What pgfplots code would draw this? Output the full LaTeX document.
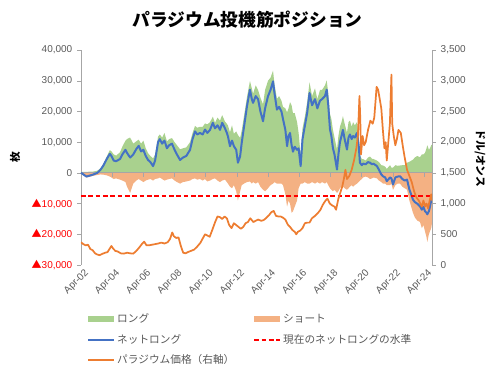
\documentclass[border=0pt]{standalone}
\usepackage{pgfplots}
\usepackage{pgfplotstable}
\pgfplotsset{compat=1.18}
\usepackage{fontspec}
\setmainfont{Liberation Sans}
\newfontfamily\jp{Noto Sans CJK JP}
\definecolor{cLong}{RGB}{169,209,142}
\definecolor{cShort}{RGB}{244,177,131}
\definecolor{cNet}{RGB}{68,114,196}
\definecolor{cPrice}{RGB}{237,125,49}
\definecolor{cRed}{RGB}{255,0,0}
\definecolor{axgray}{RGB}{166,166,166}
\definecolor{txgray}{RGB}{89,89,89}

\pgfplotstableread{
year net short long
2002.25 0 -300 300
2002.4 -500 -800 300
2002.6 -1200 -1500 300
2002.8 -900 -1300 400
2003.0 -600 -1000 400
2003.3 0 -700 700
2003.5 1000 -500 1500
2003.7 2500 -600 3100
2003.9 4500 -800 5300
2004.1 6200 -1200 7400
2004.2 5500 -1500 7000
2004.35 4000 -2000 6000
2004.5 3800 -1800 5600
2004.75 4500 -2200 6700
2004.9 6000 -2500 8500
2005.1 7500 -3000 10500
2005.2 6500 -4500 11000
2005.4 5000 -6500 11500
2005.6 6000 -3500 9500
2005.8 7800 -2500 10300
2005.95 8800 -2000 10800
2006.1 7000 -2500 9500
2006.25 7500 -3000 10500
2006.4 5500 -2500 8000
2006.55 4200 -2200 6400
2006.7 3500 -2000 5500
2006.87 2200 -2500 4700
2007.0 4000 -2000 6000
2007.19 10000 -1800 11800
2007.3 11000 -1500 12500
2007.45 9500 -2000 11500
2007.6 10500 -2500 13000
2007.76 8000 -2200 10200
2007.9 9000 -2000 11000
2008.08 9500 -1800 11300
2008.25 7500 -2500 10000
2008.4 6000 -3000 9000
2008.6 4200 -3500 7700
2008.79 5000 -3000 8000
2009.0 5500 -2800 8300
2009.24 7500 -2500 10000
2009.4 11000 -2000 13000
2009.56 13500 -1800 15300
2009.7 12500 -2200 14700
2009.88 13000 -2000 15000
2010.05 12500 -2500 15000
2010.2 14100 -2000 16100
2010.35 13000 -2800 15800
2010.52 14000 -2500 16500
2010.7 16300 -2000 18300
2010.84 14500 -1800 16300
2011.0 15500 -2500 18000
2011.16 14000 -3000 17000
2011.3 16300 -2500 18800
2011.48 14500 -2200 16700
2011.6 13000 -3000 16000
2011.67 11900 -3500 15400
2011.8 8700 -4500 13200
2011.93 10500 -5000 15500
2012.05 8700 -4000 12700
2012.2 7500 -6000 13500
2012.31 3300 -9000 12300
2012.45 5400 -6000 11400
2012.55 9700 -4000 13700
2012.7 15000 -3500 18500
2012.89 21700 -3000 24700
2013.08 27100 -2800 29900
2013.2 24000 -3500 27500
2013.28 22800 -3000 25800
2013.45 25000 -3500 28500
2013.6 24000 -3000 27000
2013.75 20000 -4500 24500
2013.92 16800 -5500 22300
2014.05 21000 -6000 27000
2014.24 25000 -5000 30000
2014.4 27000 -4000 31000
2014.56 29800 -3500 33300
2014.65 26000 -3000 29000
2014.81 20600 -3500 24100
2014.95 21500 -3500 25000
2015.1 20000 -3500 23500
2015.2 17500 -4000 21500
2015.35 14000 -7000 21000
2015.46 8700 -11000 19700
2015.55 12000 -9000 21000
2015.65 13000 -10000 23000
2015.75 9000 -13000 22000
2015.84 6900 -12500 19400
2015.95 8500 -11000 19500
2016.1 7500 -9000 16500
2016.2 8000 -5000 13000
2016.33 2200 -3500 5700
2016.45 11000 -3500 14500
2016.6 15300 -3000 18300
2016.75 19600 -3500 23100
2016.9 26000 -3500 29500
2017.06 22000 -3000 25000
2017.25 24000 -3500 27500
2017.4 21000 -3000 24000
2017.57 23500 -3500 27000
2017.7 24000 -3000 27000
2017.89 25000 -3500 28500
2018.0 27100 -3000 30100
2018.1 22000 -4000 26000
2018.21 14200 -5000 19200
2018.3 12000 -5500 17500
2018.4 8000 -6000 14000
2018.5 6000 -5500 11500
2018.66 1100 -6500 7600
2018.75 6000 -6000 12000
2018.85 10000 -5000 15000
2018.95 12000 -4500 16500
2019.04 14000 -4500 18500
2019.15 11000 -5000 16000
2019.3 7600 -5500 13100
2019.4 11500 -5000 16500
2019.49 12500 -4500 17000
2019.6 11000 -4000 15000
2019.69 12000 -4500 16500
2019.8 11500 -4000 15500
2019.94 13000 -3500 16500
2020.05 9000 -3000 12000
2020.13 3300 -2500 5800
2020.25 2500 -2000 4500
2020.33 3000 -1500 4500
2020.5 2800 -1200 4000
2020.65 3500 -1500 5000
2020.78 3300 -2000 5300
2020.9 2800 -1800 4600
2021.0 3000 -1500 4500
2021.22 2200 -1800 4000
2021.35 1000 -2500 3500
2021.5 -500 -3000 2500
2021.61 -1100 -3500 2400
2021.75 -1500 -3500 2000
2021.85 -2700 -4000 1300
2022.06 -1500 -4000 2500
2022.15 -1800 -3500 1700
2022.25 -3800 -5500 1700
2022.4 -1500 -4000 2500
2022.55 -1200 -3500 2300
2022.7 -1100 -3500 2400
2022.85 -2000 -4500 2500
2023.0 -2500 -5000 2500
2023.15 -2200 -5500 3300
2023.3 -5400 -9000 3600
2023.53 -8700 -13000 4300
2023.65 -9500 -14500 5000
2023.8 -10000 -15500 5500
2023.98 -10900 -16000 5100
2024.1 -12000 -18000 6000
2024.2 -11000 -17000 6000
2024.3 -12500 -19000 6500
2024.4 -13000 -21000 8000
2024.45 -13500 -22500 9000
2024.55 -12500 -20000 7500
2024.62 -11000 -19000 8000
2024.7 -9000 -18000 9000
2024.75 -7100 -16300 9200
}\posdata

\pgfplotstableread{
year price
2002.25 370
2002.4 340
2002.55 320
2002.7 330
2002.85 260
2003.0 240
2003.15 190
2003.3 170
2003.45 160
2003.6 180
2003.8 200
2003.95 210
2004.1 270
2004.2 310
2004.3 270
2004.45 230
2004.6 220
2004.8 190
2005.0 185
2005.2 200
2005.4 190
2005.6 185
2005.8 230
2006.0 290
2006.15 340
2006.3 380
2006.45 320
2006.6 320
2006.8 330
2007.0 340
2007.2 350
2007.4 365
2007.6 350
2007.8 370
2007.95 420
2008.1 530
2008.2 470
2008.35 440
2008.5 450
2008.65 310
2008.8 200
2008.95 190
2009.1 210
2009.3 230
2009.5 250
2009.7 300
2009.9 360
2010.05 430
2010.2 500
2010.35 480
2010.5 460
2010.65 560
2010.85 700
2011.0 790
2011.15 780
2011.3 750
2011.45 790
2011.6 760
2011.75 650
2011.9 600
2012.05 680
2012.2 650
2012.35 620
2012.5 590
2012.65 620
2012.8 680
2012.95 700
2013.1 760
2013.3 700
2013.45 720
2013.6 740
2013.8 720
2013.95 730
2014.1 760
2014.3 810
2014.45 860
2014.6 880
2014.75 800
2014.9 790
2015.05 790
2015.2 770
2015.35 740
2015.5 660
2015.65 620
2015.8 570
2015.95 540
2016.05 500
2016.15 540
2016.3 560
2016.45 600
2016.6 680
2016.75 690
2016.9 690
2017.05 760
2017.25 800
2017.45 850
2017.6 900
2017.75 980
2017.9 1040
2018.05 1080
2018.2 1000
2018.35 970
2018.5 950
2018.6 900
2018.75 1080
2018.9 1200
2019.0 1280
2019.1 1400
2019.2 1550
2019.3 1400
2019.45 1450
2019.6 1550
2019.75 1700
2019.9 1900
2020.0 2100
2020.1 2750
2020.15 2400
2020.2 1800
2020.3 2100
2020.4 1950
2020.5 2000
2020.65 2200
2020.8 2350
2020.95 2300
2021.05 2400
2021.2 2900
2021.3 2850
2021.4 2700
2021.5 2550
2021.6 2200
2021.7 1900
2021.78 2000
2021.85 1700
2021.95 2000
2022.05 2300
2022.15 3100
2022.2 2300
2022.3 2100
2022.4 1950
2022.5 2050
2022.6 2200
2022.75 2150
2022.9 1900
2023.0 1750
2023.15 1550
2023.3 1450
2023.45 1350
2023.6 1200
2023.75 1100
2023.9 1050
2024.0 1000
2024.1 950
2024.2 1050
2024.3 950
2024.4 1000
2024.5 920
2024.6 1050
2024.7 1150
2024.75 1050
}\pricedata

\newcommand{\tri}[1]{\textcolor{cRed}{{\jp ▲}#1}}

\begin{document}
\begin{tikzpicture}
\useasboundingbox (-60.75pt,-78pt) rectangle (314.25pt,198.75pt);
\begin{axis}[
  at={(0,0)}, anchor=south west,
  scale only axis, width=263.25pt, height=161.25pt,
  xmin=2002.25, xmax=2024.75,
  ymin=-30000, ymax=40000,
  scaled y ticks=false,
  axis y line*=left, axis x line*=bottom,
  x axis line style={draw=none},
  y axis line style={axgray},
  xtick={2002.25,2004.25,2006.25,2008.25,2010.25,2012.25,2014.25,2016.25,2018.25,2020.25,2022.25,2024.25},
  xticklabels={Apr-02,Apr-04,Apr-06,Apr-08,Apr-10,Apr-12,Apr-14,Apr-16,Apr-18,Apr-20,Apr-22,Apr-24},
  xtick style={draw=none},
  xticklabel style={rotate=45, anchor=north east, text=txgray, font=\fontsize{7.5}{9}\selectfont, inner sep=1pt, xshift=3pt},
  ytick={-30000,-20000,-10000,0,10000,20000,30000,40000},
  yticklabels={\tri{30,000},\tri{20,000},\tri{10,000},0,{10,000},{20,000},{30,000},{40,000}},
  yticklabel style={text=txgray, font=\fontsize{7.5}{9}\selectfont},
  ytick style={axgray},
  tick align=outside, major tick length=3pt,
  legend columns=2,
  legend cell align=left,
  legend style={at={(0.017,-0.214)}, anchor=north west, draw=none, fill=none,
    font=\jp\fontsize{8}{9}\selectfont, text=txgray, inner sep=0pt,
    /tikz/every odd row/.append style={row sep=3pt},
    /tikz/every even row/.append style={row sep=3pt}},
  clip=false,
]
\addplot[fill=cLong, draw=none, forget plot] table[x=year,y=long] {\posdata} \closedcycle;
\addplot[fill=cShort, draw=none, forget plot] table[x=year,y=short] {\posdata} \closedcycle;
\draw[axgray, line width=0.6pt] (axis cs:2002.25,0) -- (axis cs:2024.75,0);
\pgfplotsinvokeforeach{2004.25,2006.25,2008.25,2010.25,2012.25,2014.25,2016.25,2018.25,2020.25,2022.25,2024.25}{
  \draw[axgray, line width=0.6pt] (axis cs:#1,0) -- ++(0pt,-3pt);
}
\addlegendimage{fill=cLong, draw=none, legend image code/.code={\fill[cLong] (0pt,-2.25pt) rectangle (19pt,2.25pt);}}
\addlegendentry{\makebox[100pt][l]{ロング}}
\addlegendimage{fill=cShort, draw=none, legend image code/.code={\fill[cShort] (0pt,-2.25pt) rectangle (19pt,2.25pt);}}
\addlegendentry{ショート}
\addplot[color=cNet, line width=1.5pt, line join=round, legend image code/.code={\draw[cNet, line width=1.5pt] (0pt,0pt) -- (19pt,0pt);}] table[x=year,y=net] {\posdata};
\addlegendentry{\makebox[100pt][l]{ネットロング}}
\addplot[color=cRed, line width=1.5pt, dash pattern=on 3.5pt off 2pt, legend image code/.code={\draw[cRed, line width=1.5pt, dash pattern=on 3.5pt off 2pt] (0pt,0pt) -- (19pt,0pt);}] coordinates {(2002.25,-7400) (2024.75,-7400)};
\addlegendentry{現在のネットロングの水準}
\addlegendimage{color=cPrice, line width=1.3pt, legend image code/.code={\draw[cPrice, line width=1.3pt] (0pt,0pt) -- (19pt,0pt);}}
\addlegendentry{パラジウム価格（右軸）}
\end{axis}
\begin{axis}[
  at={(0,0)}, anchor=south west,
  scale only axis, width=263.25pt, height=161.25pt,
  xmin=2002.25, xmax=2024.75,
  ymin=0, ymax=3500,
  scaled y ticks=false,
  axis x line=none, axis y line*=right,
  y axis line style={axgray},
  ytick={0,500,1000,1500,2000,2500,3000,3500},
  yticklabels={0,500,{1,000},{1,500},{2,000},{2,500},{3,000},{3,500}},
  yticklabel style={text=txgray, font=\fontsize{7.5}{9}\selectfont},
  ytick style={axgray},
  tick align=outside, major tick length=3pt,
]
\addplot[color=cPrice, line width=1.3pt, line join=round] table[x=year,y=price] {\pricedata};
\end{axis}
\node[font=\jp\bfseries\fontsize{13.3}{15}\selectfont] at (124.9pt,183.75pt) {パラジウム投機筋ポジション};
\node[font=\jp\bfseries\fontsize{8}{9}\selectfont, rotate=90] at (-49.5pt,81pt) {枚};
\node[font=\jp\bfseries\fontsize{8}{9}\selectfont, rotate=-90] at (299.25pt,79.9pt) {ドル/オンス};
\end{tikzpicture}
\end{document}
